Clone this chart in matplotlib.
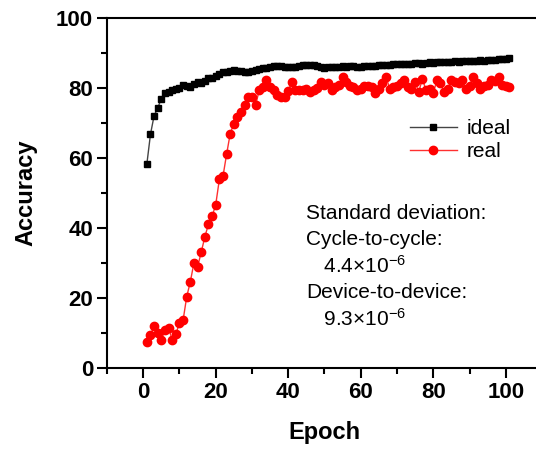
import numpy as np
import matplotlib
matplotlib.use('Agg')
import matplotlib.pyplot as plt

plt.rcParams['font.family'] = ['Liberation Sans', 'DejaVu Sans']
plt.rcParams['mathtext.fontset'] = 'custom'
plt.rcParams['mathtext.rm'] = 'Liberation Sans'
plt.rcParams['mathtext.default'] = 'regular'

# Datos
epocas = np.arange(1, 102)
ideal = [58.3, 66.8, 72.1, 74.3, 77.0, 78.5, 79.0, 79.4, 79.6, 80.0,
         80.9, 80.5, 80.4, 81.2, 81.8, 81.5, 82.0, 82.8, 83.0, 83.4,
         84.1, 84.5, 84.7, 84.9, 85.1, 84.9, 84.8, 84.7, 84.7, 84.8,
         85.2, 85.4, 85.6, 85.7, 85.9, 86.2, 86.4, 86.2, 86.0, 85.9,
         86.0, 85.9, 86.2, 86.5, 86.6, 86.5, 86.7, 86.4, 86.0, 85.8,
         85.9, 86.0, 86.1, 86.0, 86.2, 86.1, 86.3, 86.2, 86.1, 86.0,
         86.2, 86.4, 86.3, 86.4, 86.6, 86.5, 86.7, 86.6, 86.8, 86.9,
         86.8, 87.0, 86.9, 87.0, 87.1, 87.2, 87.0, 87.2, 87.3, 87.2,
         87.3, 87.4, 87.3, 87.5, 87.4, 87.6, 87.5, 87.7, 87.6, 87.8,
         87.7, 87.8, 87.9, 87.8, 88.0, 88.0, 88.1, 88.2, 88.3, 88.4, 88.5]
real = [7.5, 9.5, 11.9, 10.0, 8.0, 10.8, 11.4, 8.0, 9.7, 12.9,
        13.7, 20.4, 24.7, 30.1, 28.9, 33.1, 37.5, 41.1, 43.3, 46.7,
        53.9, 54.8, 61.1, 67.0, 69.8, 71.8, 73.2, 75.2, 77.3, 77.3,
        75.1, 79.4, 80.4, 82.3, 80.4, 79.4, 78.0, 77.3, 77.5, 79.2,
        81.8, 79.4, 79.5, 79.4, 79.6, 79.0, 79.4, 80.0, 81.8, 81.0,
        81.3, 79.4, 80.3, 81.0, 83.1, 81.6, 80.7, 80.3, 79.4, 79.8,
        80.6, 80.7, 80.3, 78.5, 79.8, 81.3, 83.1, 79.8, 80.3, 80.7,
        81.3, 82.2, 80.3, 79.8, 81.6, 78.9, 82.6, 79.4, 79.8, 78.5,
        82.2, 81.3, 78.9, 79.8, 82.2, 81.6, 81.3, 82.2, 79.8, 80.7,
        83.1, 81.3, 79.8, 80.5, 81.0, 82.3, 82.0, 83.2, 81.0, 80.5, 80.3]
notas = ['Standard deviation:', 'Cycle-to-cycle:', '   4.4×10$^{-6}$',
         'Device-to-device:', '   9.3×10$^{-6}$']

fig = plt.figure(figsize=(5.36, 4.5), dpi=100)
ax = fig.add_axes([0.1996, 0.1822, 0.8116, 0.7778])

ax.plot(epocas, ideal, color='#444444', linewidth=1, marker='s', markersize=5,
        markerfacecolor='black', markeredgecolor='black', label='ideal')
ax.plot(epocas, real, color='#ff3030', linewidth=1, marker='o', markersize=6,
        markerfacecolor='red', markeredgecolor='red', label='real')

ax.set_xlim(-10, 110)
ax.set_ylim(0, 100)
ax.set_xticks([0, 20, 40, 60, 80, 100])
ax.set_yticks([0, 20, 40, 60, 80, 100])
ax.set_xticks(np.arange(-10, 111, 10), minor=True)
ax.set_yticks(np.arange(0, 101, 10), minor=True)
ax.tick_params(which='major', direction='out', length=7, width=1.5, pad=3, labelsize=16)
ax.tick_params(which='minor', direction='out', length=4, width=1.5)
for lab in ax.get_xticklabels() + ax.get_yticklabels():
    lab.set_fontweight('bold')
for s in ax.spines.values():
    s.set_linewidth(1.5)

ax.set_xlabel('Epoch', fontsize=17, fontweight='bold')
ax.set_ylabel('Accuracy', fontsize=17, fontweight='bold')
ax.xaxis.set_label_coords(0.501, -0.152)
ax.yaxis.set_label_coords(-0.16, 0.5)

ax.legend(loc='upper left', bbox_to_anchor=(410 / 536, 1 - 119 / 450),
          bbox_transform=fig.transFigure, frameon=False, borderpad=0,
          borderaxespad=0, fontsize=15, handlelength=2.25, handletextpad=0.45,
          labelspacing=0.2)

for i, t in enumerate(notas):
    fig.text(306 / 536, 1 - (213 + 26.5 * i) / 450, t, fontsize=15, va='center')

fig.savefig('out.png', dpi=100)
